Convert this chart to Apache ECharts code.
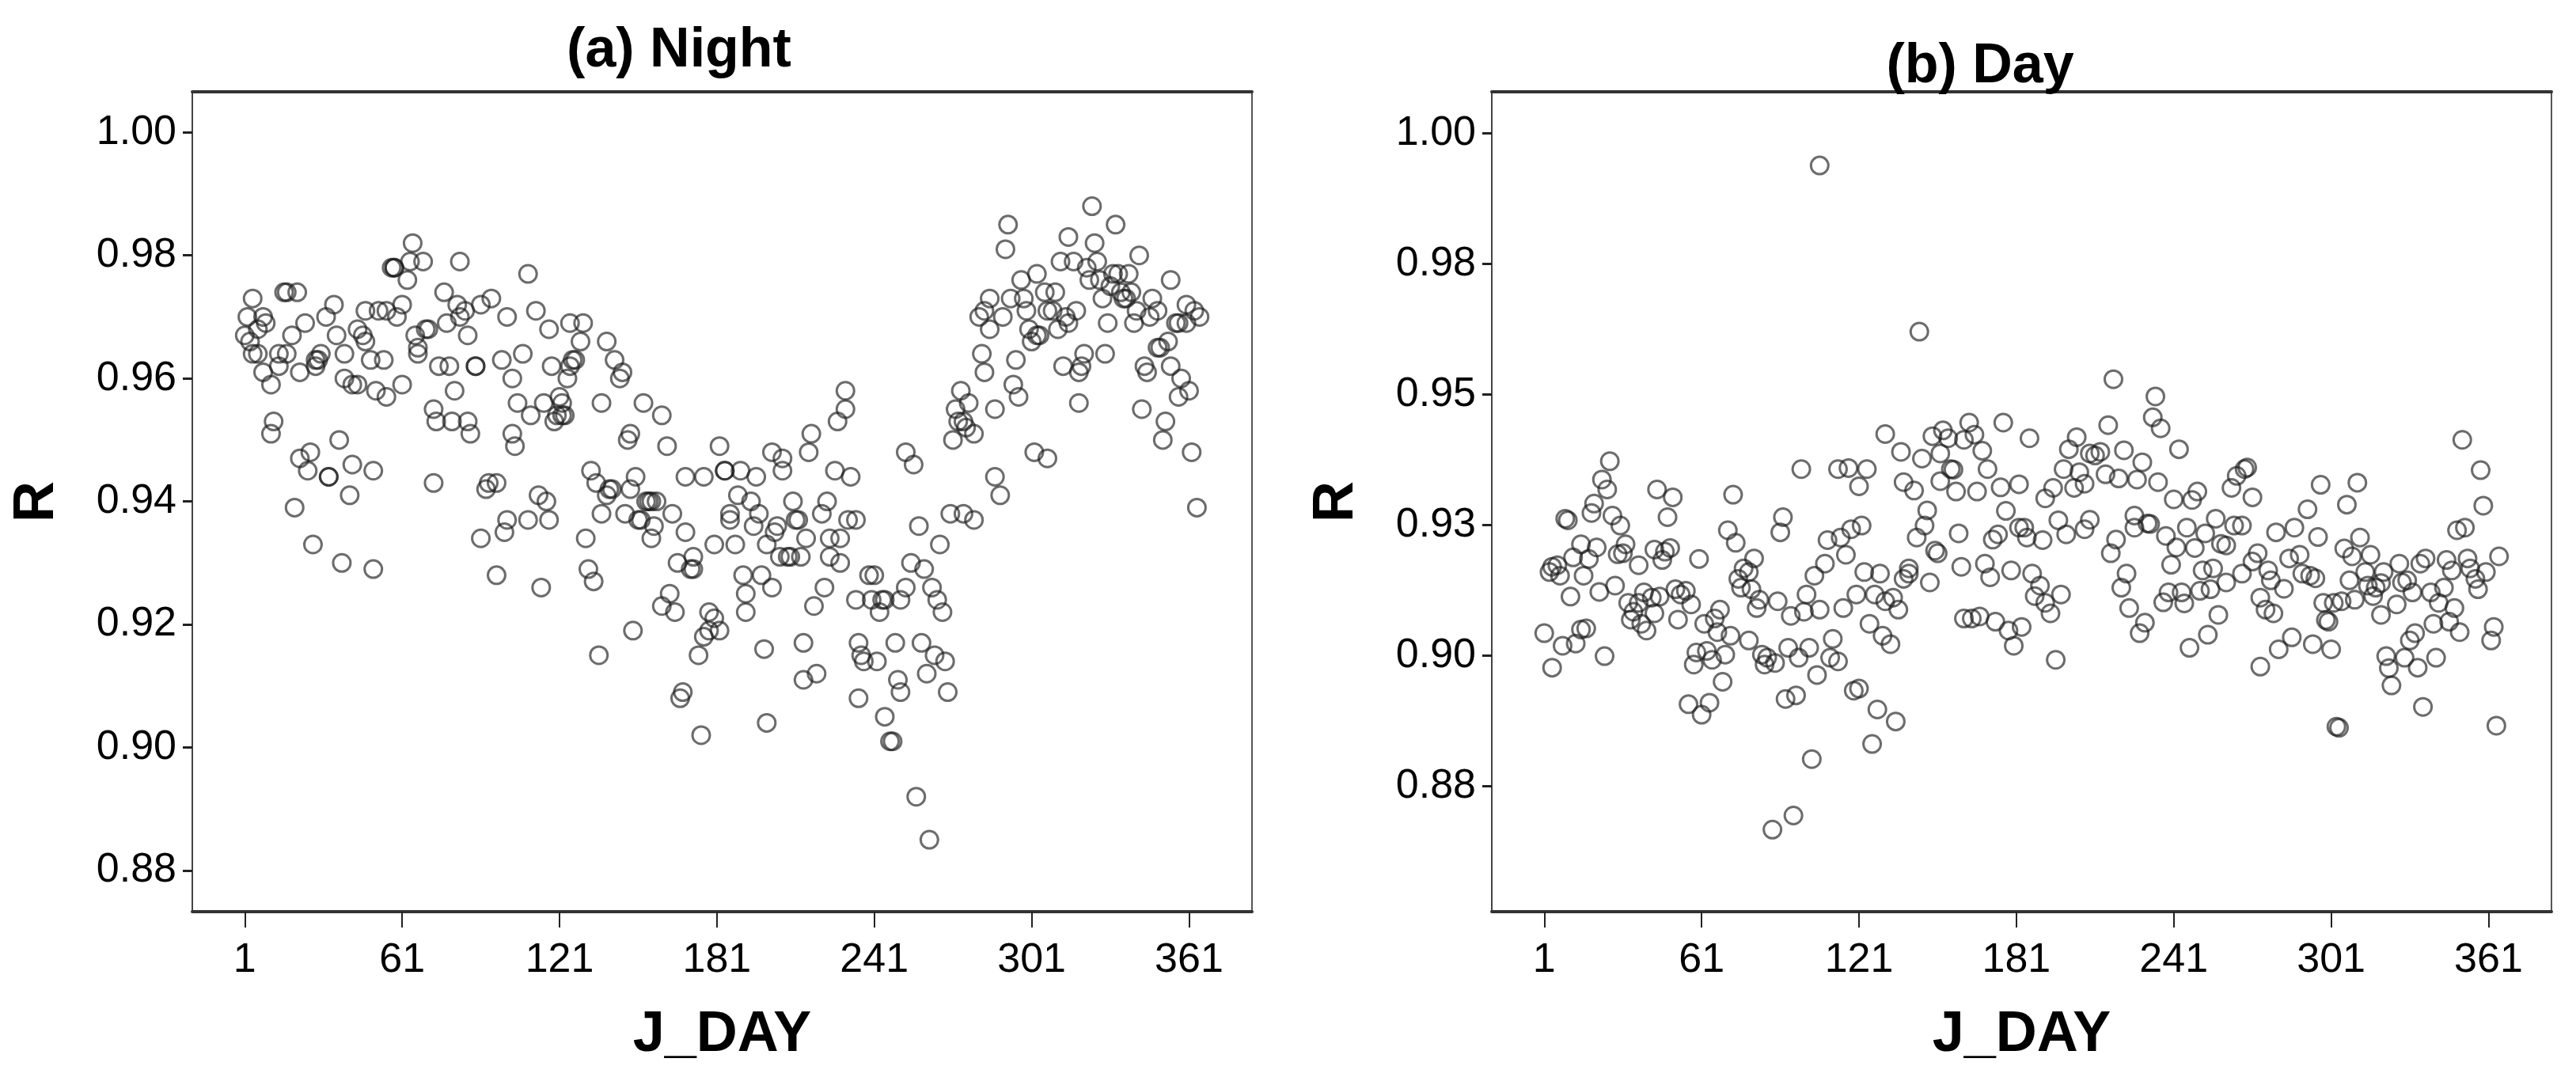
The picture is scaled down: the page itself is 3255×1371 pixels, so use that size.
<!DOCTYPE html>
<html>
<head>
<meta charset="utf-8">
<title>R by J_DAY</title>
<script src="https://cdn.jsdelivr.net/npm/echarts@6/dist/echarts.min.js"></script>
<style>
  html, body { margin: 0; padding: 0; background: #fff; }
  #main { width: 3255px; height: 1371px; }
</style>
</head>
<body>
<div id="main"></div>
<script>
// tick positions / labels
var dayTicks = [1, 61, 121, 181, 241, 301, 361];
var nightRTicks = [0.88, 0.90, 0.92, 0.94, 0.96, 0.98, 1.00];
var nightRTickLabels = ['0.88', '0.90', '0.92', '0.94', '0.96', '0.98', '1.00'];
var dayRTicks = [0.875, 0.9, 0.925, 0.95, 0.975, 1.0];
var dayRTickLabels = ['0.88', '0.90', '0.93', '0.95', '0.98', '1.00'];

// (a) Night : J_DAY / R
var nightDay = [
  1,2,3,4,4,6,6,8,8,9, 11,12,11,14,14,16,17,19,17,20,
  21,22,24,22,25,26,27,28,28,29, 30,32,33,33,35,36,37,38,39,39,
  41,42,42,44,44,46,47,47,49,50, 50,51,52,54,55,55,57,58,58,59,
  61,61,63,65,64,66,67,69,67,70, 71,73,73,74,75,77,78,79,80,81,
  82,83,83,85,86,86,87,89,89,91, 91,93,94,95,97,97,99,100,101,101,
  103,103,104,105,107,109,109,110,112,113, 114,115,116,117,117,118,119,120,121,122,
  122,123,124,125,125,126,127,129,130,131, 132,133,134,135,136,137,137,139,139,140,
  141,142,144,145,146,147,148,148,149,150, 151,152,153,154,155,156,156,157,158,160,
  160,162,163,164,165,166,167,168,169,169, 171,172,172,174,175,176,176,178,178,180,
  180,182,182,184,184,186,186,188,189,190, 191,192,192,194,195,196,197,198,199,200,
  200,202,202,203,204,205,206,206,208,209, 210,211,212,213,214,214,215,216,217,218,
  219,221,222,223,224,224,226,227,228,228, 230,230,231,232,234,234,235,235,236,237,
  239,240,241,242,243,244,245,245,247,248, 249,250,251,251,253,253,255,256,257,258,
  259,260,261,262,263,264,265,266,267,268, 269,270,271,272,273,274,275,275,276,277,
  279,279,281,282,283,283,285,285,287,287, 289,290,291,292,293,294,295,296,297,298,
  299,300,301,302,303,303,304,306,307,307, 309,310,311,312,313,314,315,315,317,318,
  319,319,320,321,322,323,324,325,326,327, 328,329,330,331,332,333,334,335,336,337,
  338,339,340,341,342,343,344,345,346,347, 349,349,350,351,352,353,354,354,356,357,
  357,358,360,360,361,362,363,364,365
];
var nightR = [
  0.967,0.970,0.966,0.973,0.964,0.964,0.968,0.970,0.961,0.969,
  0.959,0.953,0.951,0.962,0.964,0.974,0.974,0.967,0.964,0.939,
  0.974,0.961,0.969,0.947,0.945,0.948,0.933,0.962,0.963,0.963,
  0.964,0.970,0.944,0.944,0.972,0.967,0.950,0.930,0.964,0.960,
  0.941,0.946,0.959,0.968,0.959,0.967,0.966,0.971,0.963,0.929,
  0.945,0.958,0.971,0.963,0.957,0.971,0.978,0.978,0.978,0.970,
  0.959,0.972,0.976,0.982,0.979,0.967,0.964,0.979,0.965,0.968,
  0.968,0.943,0.955,0.953,0.962,0.974,0.969,0.962,0.953,0.958,
  0.972,0.979,0.970,0.971,0.967,0.953,0.951,0.962,0.962,0.972,
  0.934,0.942,0.943,0.973,0.928,0.943,0.963,0.935,0.970,0.937,
  0.960,0.951,0.949,0.956,0.964,0.937,0.977,0.954,0.971,0.941,
  0.926,0.956,0.940,0.968,0.937,0.962,0.953,0.954,0.957,0.956,
  0.954,0.954,0.960,0.962,0.969,0.963,0.963,0.966,0.969,0.934,
  0.929,0.945,0.927,0.943,0.915,0.956,0.938,0.966,0.941,0.942,
  0.942,0.963,0.960,0.961,0.938,0.950,0.951,0.942,0.919,0.944,
  0.937,0.937,0.956,0.940,0.940,0.934,0.940,0.936,0.940,0.954,
  0.923,0.949,0.925,0.938,0.922,0.930,0.908,0.909,0.944,0.935,
  0.929,0.929,0.931,0.915,0.902,0.944,0.918,0.919,0.922,0.933,
  0.921,0.919,0.949,0.945,0.945,0.937,0.938,0.933,0.941,0.945,
  0.928,0.922,0.925,0.940,0.936,0.944,0.938,0.928,0.916,0.904,
  0.933,0.926,0.948,0.935,0.936,0.931,0.947,0.945,0.931,0.931,
  0.940,0.937,0.937,0.931,0.911,0.917,0.934,0.948,0.951,0.923,
  0.912,0.938,0.926,0.940,0.934,0.931,0.945,0.953,0.930,0.934,
  0.958,0.955,0.937,0.944,0.937,0.924,0.917,0.908,0.915,0.914,
  0.928,0.924,0.928,0.914,0.922,0.924,0.924,0.905,0.901,0.901,
  0.917,0.911,0.924,0.909,0.926,0.948,0.930,0.946,0.892,0.936,
  0.917,0.929,0.912,0.885,0.926,0.915,0.924,0.933,0.922,0.914,
  0.909,0.938,0.950,0.955,0.953,0.958,0.938,0.953,0.952,0.956,
  0.951,0.937,0.970,0.964,0.971,0.961,0.973,0.968,0.955,0.944,
  0.941,0.970,0.981,0.985,0.973,0.959,0.963,0.957,0.976,0.973,
  0.971,0.968,0.966,0.948,0.967,0.977,0.967,0.974,0.947,0.971,
  0.971,0.974,0.968,0.979,0.962,0.970,0.983,0.969,0.979,0.971,
  0.961,0.956,0.962,0.964,0.978,0.976,0.988,0.982,0.979,0.976,
  0.973,0.964,0.969,0.975,0.977,0.985,0.977,0.974,0.973,0.973,
  0.977,0.974,0.969,0.971,0.980,0.955,0.962,0.961,0.970,0.973,
  0.965,0.971,0.965,0.950,0.953,0.966,0.976,0.962,0.969,0.957,
  0.969,0.960,0.969,0.972,0.958,0.948,0.971,0.939,0.970
];

// (b) Day : J_DAY / R
var dayJ = [
  26,23,25,20,19,9,10,27,30,15, 21,12,18,16,29,32,31,3,4,7,
  6,11,22,28,1,8,13,15,17,24, 4,37,44,50,48,43,47,46,49,33,
  35,37,39,42,45,34,38,40,43,51, 53,55,57,52,60,73,71,74,62,66,
  68,67,72,59,58,63,65,70,69,56, 64,61,75,76,77,81,79,80,83,82,
  79,84,85,
  144,131,137,145,149,153,155,152,156,157, 161,163,165,168,170,176,186,99,113,117,
  124,121,138,142,152,158,166,175,182,92, 91,109,114,118,122,116,108,104,101,90,
  95,100,106,115,120,123,129,127,131,134, 136,140,140,138,148,147,146,143,150,151,
  159,160,169,171,172,174,177,179,182,184, 185,187,188,125,130,133,161,164,167,173,
  178,183,180,86,89,94,98,102,111,110, 113,105,93,97,119,121,128,135,126,103,
  88,96,106,
  218,234,233,236,216,204,201,209,211,213, 222,229,243,199,205,215,220,227,235,195,
  192,203,207,241,248,250,263,265,268,269, 271,197,200,209,207,191,226,226,231,232,
  219,217,238,242,246,249,253,257,259,261, 264,267,280,287,190,192,194,198,223,221,
  224,228,230,240,237,239,244,245,252,256, 251,255,261,267,271,273,277,278,283,285,
  274,276,279,258,254,247,281,286,274,196,
  351,358,359,352,349,297,311,307,292,296, 312,306,309,316,289,290,293,295,308,314,
  315,318,320,321,327,335,337,345,347,353, 354,360,356,357,365,328,330,332,339,342,
  344,298,302,305,310,317,326,320,299,300, 340,348,346,350,333,331,363,362,294,301,
  322,323,329,334,341,324,336,303,304,364
];
var dayR = [
  0.9372,0.9337,0.9318,0.9291,0.9273,0.9262,0.9259,0.9268,0.9249,0.9213,
  0.9207,0.9188,0.9185,0.9153,0.9194,0.9213,0.9196,0.9160,0.9170,0.9153,
  0.9173,0.9113,0.9122,0.9134,0.9043,0.9019,0.9023,0.9050,0.9052,0.8999,
  0.8977,0.9173,0.9318,0.9303,0.9265,0.9203,0.9199,0.9183,0.9206,0.9101,
  0.9084,0.9101,0.9121,0.9111,0.9113,0.9069,0.9061,0.9048,0.9081,0.9127,
  0.9117,0.9124,0.9098,0.9069,0.9185,0.9308,0.9240,0.9216,0.9061,0.9071,
  0.9088,0.9045,0.9038,0.9006,0.8983,0.9009,0.8992,0.9002,0.8950,0.8907,
  0.8910,0.8887,0.9147,0.9130,0.9167,0.9186,0.9160,0.9127,0.9107,0.9091,
  0.9029,0.9002,0.8983,
  0.9620,0.9424,0.9390,0.9377,0.9420,0.9431,0.9416,0.9387,0.9357,0.9356,
  0.9413,0.9446,0.9423,0.9392,0.9357,0.9446,0.9416,0.9357,0.9357,0.9359,
  0.9357,0.9324,0.9332,0.9316,0.9334,0.9314,0.9314,0.9322,0.9328,0.9265,
  0.9236,0.9221,0.9226,0.9242,0.9249,0.9193,0.9176,0.9153,0.9117,0.9104,
  0.9076,0.9084,0.9088,0.9091,0.9117,0.9160,0.9157,0.9117,0.9104,0.9111,
  0.9088,0.9167,0.9157,0.9147,0.9140,0.9278,0.9249,0.9226,0.9201,0.9196,
  0.9234,0.9170,0.9176,0.9150,0.9222,0.9232,0.9277,0.9163,0.9245,0.9245,
  0.9226,0.9157,0.9114,0.9061,0.9038,0.9022,0.9071,0.9071,0.9075,0.9065,
  0.9048,0.9055,0.9019,0.8996,0.8986,0.9015,0.8996,0.9015,0.9032,0.8996,
  0.8989,0.8963,0.8917,0.8924,0.8933,0.8937,0.8897,0.8874,0.8831,0.8802,
  0.8667,0.8694,0.9938,
  0.9529,0.9496,0.9456,0.9435,0.9441,0.9418,0.9395,0.9387,0.9383,0.9390,
  0.9393,0.9370,0.9395,0.9357,0.9351,0.9347,0.9339,0.9337,0.9332,0.9321,
  0.9301,0.9321,0.9329,0.9299,0.9298,0.9314,0.9321,0.9344,0.9357,0.9360,
  0.9303,0.9259,0.9232,0.9260,0.9242,0.9221,0.9268,0.9245,0.9253,0.9252,
  0.9222,0.9196,0.9229,0.9207,0.9245,0.9206,0.9234,0.9262,0.9214,0.9211,
  0.9249,0.9249,0.9236,0.9245,0.9134,0.9101,0.9081,0.9117,0.9157,0.9130,
  0.9091,0.9043,0.9063,0.9174,0.9102,0.9121,0.9121,0.9100,0.9163,0.9167,
  0.9124,0.9127,0.9140,0.9157,0.9180,0.9196,0.9163,0.9144,0.9128,0.9186,
  0.9111,0.9088,0.9081,0.9078,0.9040,0.9015,0.9012,0.9035,0.8979,0.8992,
  0.9413,0.9355,0.9287,0.9245,0.9240,0.9327,0.9331,0.9289,0.9280,0.9227,
  0.9226,0.9205,0.9190,0.9193,0.9193,0.9157,0.9153,0.9148,0.9144,0.9160,
  0.9134,0.9130,0.9139,0.9160,0.9176,0.9176,0.9186,0.9183,0.9163,0.9186,
  0.9167,0.9160,0.9147,0.9127,0.9190,0.9140,0.9144,0.9121,0.9121,0.9101,
  0.9130,0.9101,0.9101,0.9104,0.9107,0.9114,0.9098,0.9078,0.9068,0.9065,
  0.9061,0.9091,0.9065,0.9045,0.9043,0.9029,0.9055,0.9029,0.9022,0.9012,
  0.8999,0.8976,0.8996,0.8977,0.8996,0.8943,0.8902,0.8864,0.8862,0.8866
];

function pairs(xs, ys) {
  var out = [];
  for (var i = 0; i < xs.length; i++) out.push([xs[i], ys[i]]);
  return out;
}
function labelFor(ticks, labels) {
  return function (v) {
    for (var i = 0; i < ticks.length; i++) {
      if (Math.abs(ticks[i] - v) < 1e-9) return labels[i];
    }
    return '';
  };
}

var tickFont = '"Liberation Sans", Arial, sans-serif';
var boldFont = '"Liberation Sans", Arial, sans-serif';

function xAxes(gi) {
  return [
    {
      gridIndex: gi, type: 'value', min: -19, max: 385, position: 'bottom',
      axisLine: { show: true, onZero: false, lineStyle: { color: '#333', width: 4 } },
      axisTick: { show: true, length: 20, customValues: dayTicks, lineStyle: { color: '#222', width: 2 } },
      axisLabel: { customValues: dayTicks, margin: 36, fontSize: 52, fontFamily: tickFont, color: '#000' },
      splitLine: { show: false },
      name: 'J_DAY', nameLocation: 'middle', nameGap: 120,
      nameTextStyle: { fontSize: 72, fontWeight: 'bold', fontFamily: boldFont, color: '#000' }
    },
    {
      gridIndex: gi, type: 'value', min: -19, max: 385, position: 'top',
      axisLine: { show: true, onZero: false, lineStyle: { color: '#333', width: 4 } },
      axisTick: { show: false }, axisLabel: { show: false }, splitLine: { show: false }
    }
  ];
}

function yAxis(gi, min, max, ticks, labels) {
  return {
    gridIndex: gi, type: 'value', min: min, max: max,
    axisLine: { show: true, onZero: false, lineStyle: { color: '#444', width: 2 } },
    axisTick: { show: true, length: 12, customValues: ticks, lineStyle: { color: '#222', width: 3 } },
    axisLabel: { customValues: ticks, formatter: labelFor(ticks, labels), margin: 20,
                 fontSize: 52, fontFamily: tickFont, color: '#000' },
    splitLine: { show: false },
    name: 'R', nameLocation: 'middle', nameRotate: 90, nameGap: 160,
    nameTextStyle: { fontSize: 72, fontWeight: 'bold', fontFamily: boldFont, color: '#000' }
  };
}

var marker = {
  type: 'scatter', symbol: 'circle', symbolSize: 22,
  itemStyle: { color: 'transparent', borderColor: 'rgba(25,25,25,0.8)', borderWidth: 3 },
  emphasis: { disabled: true }, silent: true
};

var myChart = echarts.init(document.getElementById('main'));

var option = {
  backgroundColor: '#fff',
  animation: false,
  title: [
    { text: '(a) Night', left: 858, top: 30, textAlign: 'center', padding: 0,
      textStyle: { fontSize: 70, fontWeight: 'bold', fontFamily: boldFont, color: '#000' } },
    { text: '(b) Day', left: 2502, top: 50, textAlign: 'center', padding: 0,
      textStyle: { fontSize: 70, fontWeight: 'bold', fontFamily: boldFont, color: '#000' } }
  ],
  grid: [
    { left: 243, top: 116, width: 1339, height: 1036, show: true, borderColor: '#555', borderWidth: 2 },
    { left: 1885, top: 116, width: 1339, height: 1036, show: true, borderColor: '#555', borderWidth: 2 }
  ],
  xAxis: xAxes(0).concat(xAxes(1)),
  yAxis: [
    yAxis(0, 0.8733, 1.0066, nightRTicks, nightRTickLabels),
    yAxis(1, 0.851, 1.0079, dayRTicks, dayRTickLabels)
  ],
  series: [
    Object.assign({}, marker, { name: 'Night', xAxisIndex: 0, yAxisIndex: 0, data: pairs(nightDay, nightR) }),
    Object.assign({}, marker, { name: 'Day', xAxisIndex: 2, yAxisIndex: 1, data: pairs(dayJ, dayR) })
  ]
};

myChart.setOption(option);
</script>
</body>
</html>
